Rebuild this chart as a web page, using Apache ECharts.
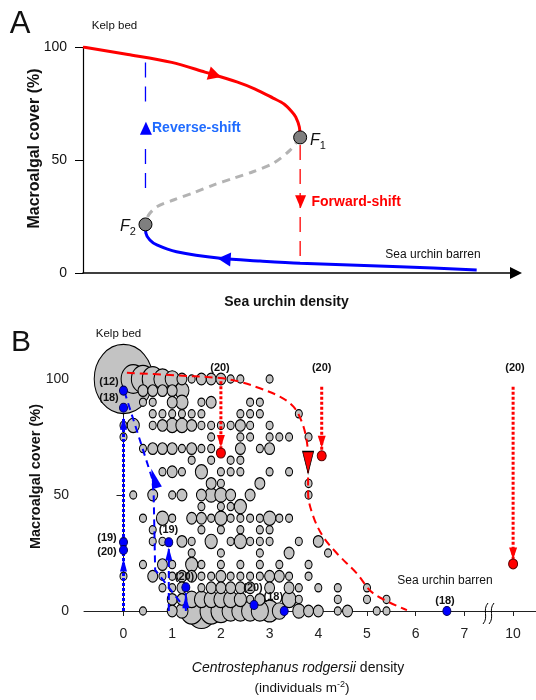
<!DOCTYPE html>
<html><head><meta charset="utf-8">
<script src="https://cdn.jsdelivr.net/npm/echarts@6/dist/echarts.min.js"></script>
<style>html,body{margin:0;padding:0;background:#fff}#c{width:536px;height:700px}</style>
</head><body><div id="c"></div>
<script>
// ================= Panel A : conceptual hysteresis (arbitrary density units) =================
const aKelpBranch   = [[0,100],[10.3,96.7],[20.3,93.2],[27.9,88.9],[35.2,84.6],[39.4,81.4],[43.5,77.4],[46.0,74.8],[47.8,71.4],[48.7,69.0],[49.5,64.7],[49.7,60.0]];
const aUnstable     = [[49.7,60.0],[47.4,54.4],[43.5,48.5],[38.9,44.8],[34.4,41.9],[29.8,38.9],[25.3,35.5],[20.7,32.3],[16.9,29.3],[15.0,25.6],[14.3,21.5]];
const aBarrenBranch = [[14.3,21.5],[14.4,17.6],[15.3,14.6],[16.9,12.4],[21.4,9.4],[31.4,6.5],[40.5,5.3],[49.7,4.3],[72.5,2.8],[90.1,1.3]];
const aFoldPoints   = [[49.7,60.0],[14.3,21.5]];        // F1, F2
const aForwardShift = [[49.7,56.6],[49.7,4.4]];
const aReverseUpper = [[14.3,93.1],[14.3,73.6]];
const aReverseLower = [[14.3,54.9],[14.3,35.5]];

// ================= Panel B : field data =================
const bTickValues = [0,1,2,3,4,5,6,7,10];
const coverLevels = [100,95,90,85,80,75,70,65,60,55,50,45,40,35,30,25,20,15,10,5,0];
// each entry: [urchin density, number of quadrats]
const cover100 = [[0,70],[0.2,12],[0.4,11],[0.6,9],[0.8,6],[1.0,4],[1.2,2],[1.4,1],[1.6,2],[1.8,2],[2.0,2],[2.2,1],[2.4,1],[3.0,1]];
const cover95  = [[0.4,2],[0.6,2],[0.8,2],[1.0,2],[1.2,4]];
const cover90  = [[0.4,1],[0.6,1],[1.0,2],[1.2,3],[1.6,1],[1.8,2],[2.6,1],[2.8,1]];
const cover85  = [[0.6,1],[0.8,1],[1.0,1],[1.2,1],[1.4,1],[1.6,1],[2.4,1],[2.6,1],[2.8,1],[3.6,1]];
const cover80  = [[0,1],[0.2,3],[0.6,1],[0.8,2],[1.0,3],[1.2,3],[1.4,2],[1.6,1],[1.8,1],[2.0,1],[2.2,1],[2.4,2],[2.6,1],[3.0,1]];
const cover75  = [[0,1],[1.8,1],[2.4,1],[2.6,1],[3.0,1],[3.2,1],[3.4,1],[3.8,1]];
const cover70  = [[0.4,1],[0.6,2],[0.8,2],[1.0,2],[1.2,1],[1.4,2],[1.6,1],[1.8,1],[2.4,2],[2.8,1],[3.0,2]];
const cover65  = [[1.4,1],[1.8,1],[2.2,1],[2.4,1]];
const cover60  = [[0.8,1],[1.0,2],[1.2,1],[1.6,3],[2.0,1],[2.2,1],[2.4,1],[3.0,1],[3.4,1]];
const cover55  = [[1.8,2],[2.0,1],[2.8,2],[3.8,1]];
const cover50  = [[0.2,1],[0.6,2],[1.0,1],[1.2,2],[1.6,2],[1.8,3],[2.0,3],[2.2,2],[2.6,2],[3.8,1]];
const cover45  = [[1.6,1],[2.0,1],[2.2,1],[2.4,3]];
const cover40  = [[0.4,1],[0.8,3],[1.0,1],[1.4,2],[1.6,2],[1.8,1],[2.0,3],[2.2,1],[2.4,1],[2.6,1],[2.8,1],[3.0,3],[3.2,1],[3.4,1]];
const cover35  = [[0.6,1],[1.6,1],[2.0,1],[2.4,1],[2.8,1],[3.0,1]];
const cover30  = [[0.6,1],[0.8,1],[1.2,2],[1.4,1],[1.8,3],[2.2,1],[2.4,3],[2.6,1],[2.8,1],[3.0,1],[3.6,1],[4.0,2]];
const cover25  = [[1.4,1],[2.0,1],[2.8,1],[3.4,2],[4.2,1]];
const cover20  = [[0.4,1],[0.8,2],[1.0,1],[1.4,3],[1.6,1],[2.0,1],[2.4,1],[2.8,1],[3.2,1],[3.8,1]];
const cover15  = [[0,1],[0.6,2],[0.8,1],[1.0,1],[1.2,2],[1.4,2],[1.6,1],[1.8,1],[2.0,2],[2.2,1],[2.4,1],[2.6,1],[2.8,1],[3.0,2],[3.2,2],[3.4,1],[3.8,1]];
const cover10  = [[0.8,1],[1.0,1],[1.2,2],[1.6,1],[1.8,2],[2.0,2],[2.2,2],[2.4,2],[2.6,2],[3.0,2],[3.4,2],[3.6,1],[4.0,1],[4.4,1],[5.0,1]];
const cover5   = [[1.0,2],[1.2,2],[1.4,4],[1.6,4],[1.8,4],[2.0,4],[2.2,4],[2.4,3],[2.6,1],[2.8,2],[3.4,4],[3.6,1],[4.4,1],[5.0,1],[5.4,1]];
const cover0   = [[0.4,1],[1.0,2],[1.2,3],[1.4,10],[1.6,18],[1.8,10],[2.0,8],[2.2,6],[2.4,6],[2.6,6],[2.8,6],[3.0,7],[3.2,4],[3.6,3],[3.8,2],[4.0,2],[4.4,1],[4.6,2],[5.2,1],[5.4,1]];
const coverRows = [cover100,cover95,cover90,cover85,cover80,cover75,cover70,cover65,cover60,cover55,cover50,cover45,cover40,cover35,cover30,cover25,cover20,cover15,cover10,cover5,cover0];

// forward-shift experiments (red)
const fwdDensity = [2.0, 4.07, 10];
const fwdStart   = [99.0, 96.7, 96.7];
const fwdEnd     = [68.1, 66.9, 20.3];
const fwdArrow   = [73.3, 73.0, 24.8];
const fwdLabels  = ['(20)','(20)','(20)'];
const fwdThreshold = [[0.07,102.7],[0.96,101.7],[1.98,100.4],[2.39,98.8],[2.80,96.0],[3.21,92.4],[3.49,88.1],[3.66,81.6],[3.76,73.7],[3.79,65.1],[3.79,50.9],[3.90,40.6],[4.10,32.0],[4.38,24.9],[4.79,16.2],[5.13,7.6],[5.82,0.4]];
const fwdThresholdArrow = [3.79, 64.0];

// reverse-shift experiments (blue)
const revDensity = [0, 0, 0, 0, 0.93, 1.28, 2.68, 3.30, 6.64];
const revCover   = [95.0, 87.6, 29.7, 26.3, 29.6, 10.2, 2.6, 0, 0];
const revLabels  = ['(12)','(18)','(19)','(20)','(19)','(20)','(20)','(18)','(18)'];
const revDotted  = [[[0,0],[0,26.3]], [[0,29.7],[0,83]]];
const revDashedV = [[[0.93,0],[0.93,29.6]], [[1.28,0],[1.28,10.2]]];
const revThreshold = [[0.02,94.5],[0.59,57.0],[0.62,50.0],[0.65,17.7],[1.26,1.3]];
const revArrows  = [[0,19.8],[0,80.9],[0.93,24.6],[1.28,4.0]];
const revThresholdArrow = [0.63, 57.2];

// axis break: 10 is drawn where 8 would be
const brk = x => (x > 7.5 ? x - 2 : x);

const FONT = 'Liberation Sans, Arial, sans-serif';
const RED = '#ff0000', BLUE = '#0000ff';

const bubbles = [];
coverRows.forEach((row, i) => row.forEach(([d, n]) => bubbles.push([d, coverLevels[i], n])));
bubbles.sort((a, b) => b[2] - a[2]);

const series = [];
// ---------- Panel A series ----------
const lineA = (data, color, width, type, smooth) => ({
  type: 'line', xAxisIndex: 0, yAxisIndex: 0, data, symbol: 'none', smooth: smooth || false,
  lineStyle: { color, width, type: type || 'solid', cap: 'butt' }, silent: true, z: 2
});
series.push(lineA(aUnstable, '#b3b3b3', 3, [8, 6], 0.3));
series.push(lineA(aKelpBranch, RED, 3, 'solid', 0.3));
series.push(lineA(aBarrenBranch, BLUE, 3, 'solid', 0.3));
series.push(lineA(aForwardShift, RED, 1.3, [15, 9]));
series.push(lineA(aReverseUpper, BLUE, 1.3, [15, 9]));
series.push(lineA(aReverseLower, BLUE, 1.3, [15, 9]));
series.push({ type: 'scatter', xAxisIndex: 0, yAxisIndex: 0, z: 5, symbol: 'circle', symbolSize: 13,
  itemStyle: { color: '#7f7f7f', borderColor: '#000', borderWidth: 1, opacity: 1 }, data: aFoldPoints });
series.push({ type: 'scatter', xAxisIndex: 0, yAxisIndex: 0, z: 6, symbol: 'triangle',
  data: [
    { value: [30.2, 87.6], symbolSize: [14, 13], symbolRotate: -107, itemStyle: { color: RED, opacity: 1 } },
    { value: [32.3, 6.2], symbolSize: [14, 13], symbolRotate: 86, itemStyle: { color: BLUE, opacity: 1 } },
    { value: [14.4, 64.0], symbolSize: [12, 13], symbolRotate: 0, itemStyle: { color: BLUE, opacity: 1 } },
    { value: [49.8, 31.5], symbolSize: [11, 13], symbolRotate: 180, itemStyle: { color: RED, opacity: 1 } }
  ] });

// ---------- Panel B series ----------
series.push({ type: 'scatter', xAxisIndex: 1, yAxisIndex: 1, clip: false, z: 2,
  symbol: 'circle',
  symbolSize: v => { const d = 7 * Math.sqrt(v[2]); return [d, d * 1.18]; },
  itemStyle: { color: '#c3c3c3', borderColor: '#000', borderWidth: 1.1, opacity: 1 },
  data: bubbles.map(b => [brk(b[0]), b[1], b[2]]) });
const lineB = (data, color, width, type, smooth) => ({
  type: 'line', xAxisIndex: 1, yAxisIndex: 1, data: data.map(p => [brk(p[0]), p[1]]), symbol: 'none',
  smooth: smooth || false, clip: false, lineStyle: { color, width, type, cap: 'butt' }, silent: true, z: 3
});
series.push(lineB(fwdThreshold, RED, 2, [8, 5], 0.35));
series.push(lineB(revThreshold, BLUE, 2, [7, 5]));
fwdDensity.forEach((d, i) => series.push(lineB([[d, fwdStart[i]], [d, fwdEnd[i]]], RED, 3, [3, 2])));
revDotted.forEach(seg => series.push(lineB(seg, BLUE, 3, [3, 2])));
revDashedV.forEach(seg => series.push(lineB(seg, BLUE, 2, [7, 4])));
// arrow heads
series.push({ type: 'scatter', xAxisIndex: 1, yAxisIndex: 1, clip: false, z: 4, symbol: 'triangle',
  data: [
    ...fwdDensity.map((d, i) => ({ value: [brk(d), fwdArrow[i]], symbolSize: [8, 12], symbolRotate: 180, itemStyle: { color: RED, opacity: 1 } })),
    { value: fwdThresholdArrow, symbolSize: [11, 22], symbolRotate: 180, itemStyle: { color: RED, borderColor: '#000', borderWidth: 1, opacity: 1 } },
    ...revArrows.map(p => ({ value: p, symbolSize: [7, 13], itemStyle: { color: BLUE, opacity: 1 } })),
    { value: revThresholdArrow, symbolSize: [10, 20], symbolRotate: 17, itemStyle: { color: BLUE, opacity: 1 } }
  ] });
// experiment end points
series.push({ type: 'scatter', xAxisIndex: 1, yAxisIndex: 1, clip: false, z: 5, symbol: 'circle', symbolSize: [9, 10],
  itemStyle: { color: RED, borderColor: '#5a0000', borderWidth: 1, opacity: 1 },
  data: fwdDensity.map((d, i) => [brk(d), fwdEnd[i]]) });
series.push({ type: 'scatter', xAxisIndex: 1, yAxisIndex: 1, clip: false, z: 5, symbol: 'circle', symbolSize: [8, 9],
  itemStyle: { color: BLUE, borderColor: '#00005a', borderWidth: 1, opacity: 1 },
  data: revDensity.map((d, i) => [brk(d), revCover[i]]) });

// ---------- text annotations ----------
const txt = (x, y, text, o) => ({ type: 'text', x, y, z: 100, rotation: (o && o.rot) || 0,
  style: Object.assign({ text, fontFamily: FONT, fontSize: 11, fill: '#111', align: 'center', verticalAlign: 'middle' }, o && o.style) });
const bold11 = { style: { fontWeight: 'bold', fontSize: 11 } };
const revLabelPos = [[109,382],[109,398],[107,537.5],[107,551.7],[168.5,530],[184.5,576.7],[253,588.3],[273.3,596.7],[445,600.8]];
const fwdLabelPos = [[220,367.5],[321.7,367.5],[515,367.5]];

const graphic = [
  txt(20, 24, 'A', { style: { fontSize: 31 } }),
  txt(21, 343, 'B', { style: { fontSize: 30 } }),
  txt(114.5, 26, 'Kelp bed', { style: { fontSize: 11.5 } }),
  txt(433, 254.5, 'Sea urchin barren', { style: { fontSize: 12 } }),
  txt(152, 128.5, 'Reverse-shift', { style: { fontWeight: 'bold', fontSize: 14, fill: '#1f6bff', align: 'left' } }),
  txt(311.5, 202.5, 'Forward-shift', { style: { fontWeight: 'bold', fontSize: 14, fill: RED, align: 'left' } }),
  txt(310, 141, '{f|F}{s|1}', { style: { align: 'left', rich: { f: { fontStyle: 'italic', fontSize: 16, fontFamily: FONT, fill: '#111' }, s: { fontSize: 11, fontFamily: FONT, fill: '#111', padding: [9, 0, 0, 0] } } } }),
  txt(120, 227, '{f|F}{s|2}', { style: { align: 'left', rich: { f: { fontStyle: 'italic', fontSize: 16, fontFamily: FONT, fill: '#111' }, s: { fontSize: 11, fontFamily: FONT, fill: '#111', padding: [9, 0, 0, 0] } } } }),
  txt(286.5, 302, 'Sea urchin density', { style: { fontWeight: 'bold', fontSize: 14 } }),
  txt(35, 148.5, 'Macroalgal cover (%)', { rot: Math.PI / 2, style: { fontWeight: 'bold', fontSize: 16 } }),
  txt(35.5, 476.5, 'Macroalgal cover (%)', { rot: Math.PI / 2, style: { fontWeight: 'bold', fontSize: 14.5 } }),
  txt(118.5, 334, 'Kelp bed', { style: { fontSize: 11.5 } }),
  txt(445, 581, 'Sea urchin barren', { style: { fontSize: 12 } }),
  txt(298, 668, '{i|Centrostephanus rodgersii} density', { style: { fontSize: 14, rich: { i: { fontStyle: 'italic', fontSize: 14, fontFamily: FONT, fill: '#111' } } } }),
  txt(302, 688, '(individuals m{sup|-2})', { style: { fontSize: 13.5, rich: { sup: { fontSize: 9, fontFamily: FONT, fill: '#111', padding: [0, 0, 7, 0] } } } }),
  { type: 'bezierCurve', z: 100, shape: { x1: 483, y1: 624, x2: 488, y2: 603, cpx1: 489, cpy1: 617, cpx2: 482, cpy2: 610 }, style: { stroke: '#000', lineWidth: 1, fill: null } },
  { type: 'bezierCurve', z: 100, shape: { x1: 489, y1: 624, x2: 494, y2: 603, cpx1: 495, cpy1: 617, cpx2: 488, cpy2: 610 }, style: { stroke: '#000', lineWidth: 1, fill: null } }
];
revLabels.forEach((t, i) => graphic.push(txt(revLabelPos[i][0], revLabelPos[i][1], t, bold11)));
fwdLabels.forEach((t, i) => graphic.push(txt(fwdLabelPos[i][0], fwdLabelPos[i][1], t, bold11)));

const chart = echarts.init(document.getElementById('c'), null, { renderer: 'canvas' });
chart.setOption({
  animation: false,
  backgroundColor: '#fff',
  textStyle: { fontFamily: FONT },
  grid: [
    { left: 83, top: 47, width: 433, height: 226 },
    { left: 84, top: 379, width: 452, height: 232 }
  ],
  xAxis: [
    { gridIndex: 0, type: 'value', min: 0, max: 99.1,
      axisLine: { show: true, lineStyle: { color: '#000', width: 1.5 }, symbol: ['none', 'triangle'], symbolSize: [12, 12] },
      axisTick: { show: false }, axisLabel: { show: false }, splitLine: { show: false } },
    { gridIndex: 1, type: 'value', min: -0.811, max: 8.47,
      axisLine: { show: true, lineStyle: { color: '#222', width: 1 } },
      axisTick: { show: true, length: 5, customValues: bTickValues.map(brk), lineStyle: { color: '#222' } },
      axisLabel: { show: true, customValues: bTickValues.map(brk), fontSize: 14, color: '#222', margin: 16,
        formatter: v => String(v > 7.5 ? Math.round(v + 2) : Math.round(v)) },
      splitLine: { show: false } }
  ],
  yAxis: [
    { gridIndex: 0, type: 'value', min: 0, max: 100, interval: 50,
      axisLine: { show: true, lineStyle: { color: '#000', width: 1.2 } },
      axisTick: { show: true, length: 8, lineStyle: { color: '#000' } },
      axisLabel: { fontSize: 14, color: '#111', margin: 16 }, splitLine: { show: false } },
    { gridIndex: 1, type: 'value', min: 0, max: 100, interval: 50,
      axisLine: { show: true, lineStyle: { color: '#222', width: 1 } },
      axisTick: { show: true, length: 7, lineStyle: { color: '#222' } },
      axisLabel: { fontSize: 14, color: '#222', margin: 15 }, splitLine: { show: false } }
  ],
  series,
  graphic
});
</script>
</body></html>
